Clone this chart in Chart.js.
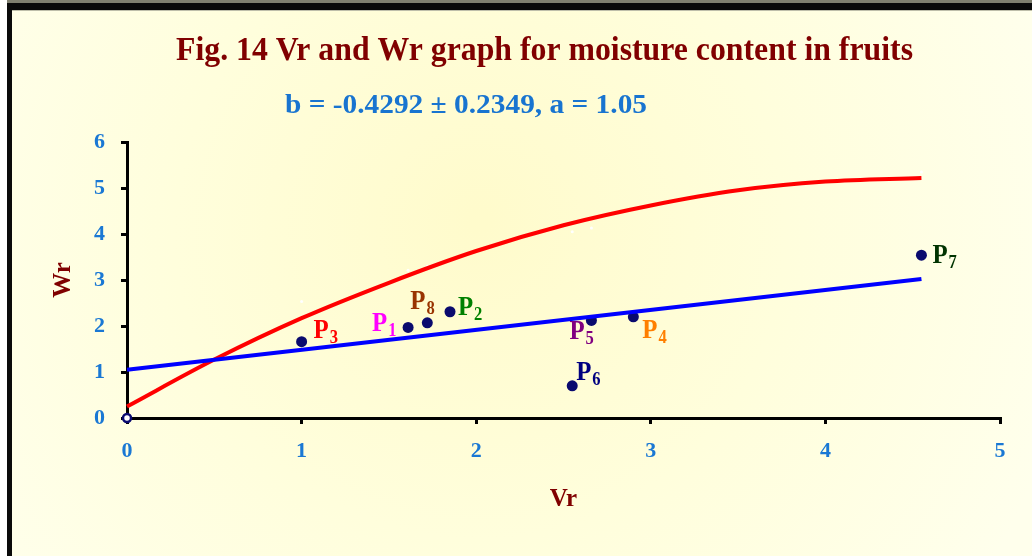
<!DOCTYPE html>
<html>
<head>
<meta charset="utf-8">
<script src="https://cdn.jsdelivr.net/npm/chart.js@4/dist/chart.umd.min.js"></script>
<style>
  html, body { margin: 0; padding: 0; background: #ffffff; }
  #wrap { width: 1032px; height: 556px; position: relative; }
</style>
</head>
<body>
<div id="wrap"><canvas id="c" width="1032" height="556"></canvas></div>
<script>
// ---- Data ----
const parentLabels = ['P1', 'P2', 'P3', 'P4', 'P5', 'P6', 'P7', 'P8'];
const parentVr = [1.61, 1.85, 1.00, 2.90, 2.66, 2.55, 4.55, 1.72];
const parentWr = [1.97, 2.31, 1.66, 2.20, 2.12, 0.70, 3.54, 2.07];

// limiting (red) curve, read at these Vr values
const curveVr = [0, 0.5, 1.0, 1.5, 2.0, 2.5, 3.0, 3.5, 4.0, 4.55];
const curveWr = [0.25, 1.27, 2.17, 2.94, 3.63, 4.19, 4.62, 4.95, 5.14, 5.22];

// regression (blue) line end points
const lineVr = [0, 4.55];
const lineWr = [1.05, 3.02];

// small white markers visible near the curve
const whiteVr = [1.00, 1.61, 1.72, 2.55, 2.66, 4.55];
const whiteWr = [2.53, 3.21, 3.30, 4.05, 4.13, 5.35];

const xTicks = [0, 1, 2, 3, 4, 5];
const yTicks = [0, 1, 2, 3, 4, 5, 6];

const titleText = 'Fig. 14 Vr and Wr graph for moisture content in fruits';
const subtitleText = 'b = -0.4292 \u00b1 0.2349, a = 1.05';
const xTitle = 'Vr';
const yTitle = 'Wr';

// ---- Styling ----
const labelColors = ['#ff00ff', '#008000', '#ff0000', '#ff7f00', '#800080', '#000080', '#003300', '#993300'];
// offsets of label (P left edge, P baseline) relative to the dot centre
const labelOffsets = [[-36, 4], [8, 3], [12, -4], [9, 21], [-22, 19], [4, -6], [11, 8], [-17, -14]];
const SERIF = '"Liberation Serif", "Times New Roman", serif';
const tickBlue = '#1a78d4';

const toPts = (xs, ys) => xs.map((x, i) => ({ x: x, y: ys[i] }));

const bgPlugin = {
  id: 'bg',
  beforeDraw(chart) {
    const ctx = chart.ctx, W = chart.width, H = chart.height;
    ctx.save();
    ctx.fillStyle = '#ffffff';
    ctx.fillRect(0, 0, W, H);
    const g = ctx.createRadialGradient(480, 220, 10, 480, 250, 600);
    g.addColorStop(0, 'rgb(255,251,204)');
    g.addColorStop(0.5, 'rgb(255,254,220)');
    g.addColorStop(1, 'rgb(255,255,236)');
    ctx.fillStyle = g;
    ctx.fillRect(7, 0, W - 7, H);
    // frame
    ctx.fillStyle = 'rgb(128,128,112)';
    ctx.fillRect(7, 0, W - 7, 3);
    ctx.fillStyle = '#0a0a0a';
    ctx.fillRect(7, 3, W - 7, 7);
    ctx.fillRect(7, 3, 5, H - 3);
    ctx.fillStyle = 'rgb(190,190,170)';
    ctx.fillRect(12, 10, W - 12, 1);
    ctx.restore();
  }
};

function fitText(ctx, text, cx, baseline, targetW) {
  const w = ctx.measureText(text).width;
  ctx.save();
  ctx.translate(cx, baseline);
  ctx.scale(targetW / w, 1);
  ctx.textAlign = 'center';
  ctx.textBaseline = 'alphabetic';
  ctx.fillText(text, 0, 0);
  ctx.restore();
}

const textPlugin = {
  id: 'texts',
  afterDraw(chart) {
    const ctx = chart.ctx;
    ctx.save();
    ctx.fillStyle = '#800000';
    ctx.font = 'bold 33px ' + SERIF;
    fitText(ctx, titleText, 544.5, 60, 737);
    ctx.fillStyle = '#1874d0';
    ctx.font = 'bold 27px ' + SERIF;
    fitText(ctx, subtitleText, 466, 113, 362);

    const xs = chart.scales.x, ys = chart.scales.y;
    ctx.textAlign = 'left';
    ctx.textBaseline = 'alphabetic';
    parentLabels.forEach((lab, i) => {
      const px = xs.getPixelForValue(parentVr[i]);
      const py = ys.getPixelForValue(parentWr[i]);
      const [dx, dy] = labelOffsets[i];
      ctx.fillStyle = labelColors[i];
      const main = lab.charAt(0);
      const sub = lab.slice(1);
      ctx.font = 'bold 27px ' + SERIF;
      const mw = ctx.measureText(main).width;
      ctx.save();
      ctx.translate(px + dx, py + dy);
      ctx.scale(0.92, 1);
      ctx.fillText(main, 0, 0);
      ctx.font = 'bold 18px ' + SERIF;
      ctx.fillText(sub, mw + 1, 5);
      ctx.restore();
    });
    ctx.restore();
  }
};

new Chart(document.getElementById('c'), {
  type: 'scatter',
  data: {
    datasets: [
      {
        label: 'line',
        data: toPts(lineVr, lineWr),
        showLine: true,
        borderColor: '#0000ff',
        borderWidth: 4,
        pointRadius: 0,
        clip: false
      },
      {
        label: 'curve',
        data: toPts(curveVr, curveWr),
        showLine: true,
        borderColor: '#ff0000',
        borderWidth: 4,
        cubicInterpolationMode: 'monotone',
        pointRadius: 0,
        clip: false
      },
      {
        label: 'origin',
        data: [{ x: 0, y: 0 }],
        pointRadius: 4,
        pointBackgroundColor: '#ffffff',
        pointBorderColor: '#0a0a70',
        pointBorderWidth: 2.5,
        clip: false
      },
      {
        label: 'parents',
        data: toPts(parentVr, parentWr),
        pointRadius: 5.5,
        pointBackgroundColor: '#0a0a6e',
        pointBorderColor: '#0a0a6e',
        pointBorderWidth: 0,
        clip: false
      },
      {
        label: 'white',
        data: toPts(whiteVr, whiteWr),
        pointRadius: 1.5,
        pointBackgroundColor: '#ffffff',
        pointBorderWidth: 0,
        clip: false
      }
    ]
  },
  options: {
    responsive: false,
    animation: false,
    events: [],
    layout: { padding: { left: 0, right: 32, top: 142, bottom: 0 } },
    plugins: {
      legend: { display: false },
      tooltip: { enabled: false },
      title: { display: false }
    },
    scales: {
      x: {
        type: 'linear',
        min: 0, max: 5,
        afterFit(scale) { scale.height = 138; },
        afterBuildTicks(scale) { scale.ticks = xTicks.map(v => ({ value: v })); },
        border: { display: true, color: '#000000', width: 3 },
        grid: { display: true, drawOnChartArea: false, drawTicks: true, tickLength: 6, color: '#000000', lineWidth: 3 },
        ticks: { color: tickBlue, font: { family: SERIF, size: 22, weight: 'bold' }, padding: 14, maxRotation: 0 },
        title: { display: true, text: xTitle, color: '#800000', font: { family: SERIF, size: 25, weight: 'bold' }, padding: { top: 0, bottom: 41 } }
      },
      y: {
        type: 'linear',
        min: 0, max: 6,
        afterFit(scale) { scale.width = 127; },
        afterBuildTicks(scale) { scale.ticks = yTicks.map(v => ({ value: v })); },
        border: { display: true, color: '#000000', width: 3 },
        grid: { display: true, drawOnChartArea: false, drawTicks: true, tickLength: 6, color: '#000000', lineWidth: 3 },
        ticks: { color: tickBlue, font: { family: SERIF, size: 22, weight: 'bold' }, padding: 16 },
        title: { display: true, text: yTitle, color: '#800000', font: { family: SERIF, size: 25, weight: 'bold' }, padding: { top: 49, bottom: 0 } }
      }
    }
  },
  plugins: [bgPlugin, textPlugin]
});
</script>
</body>
</html>
